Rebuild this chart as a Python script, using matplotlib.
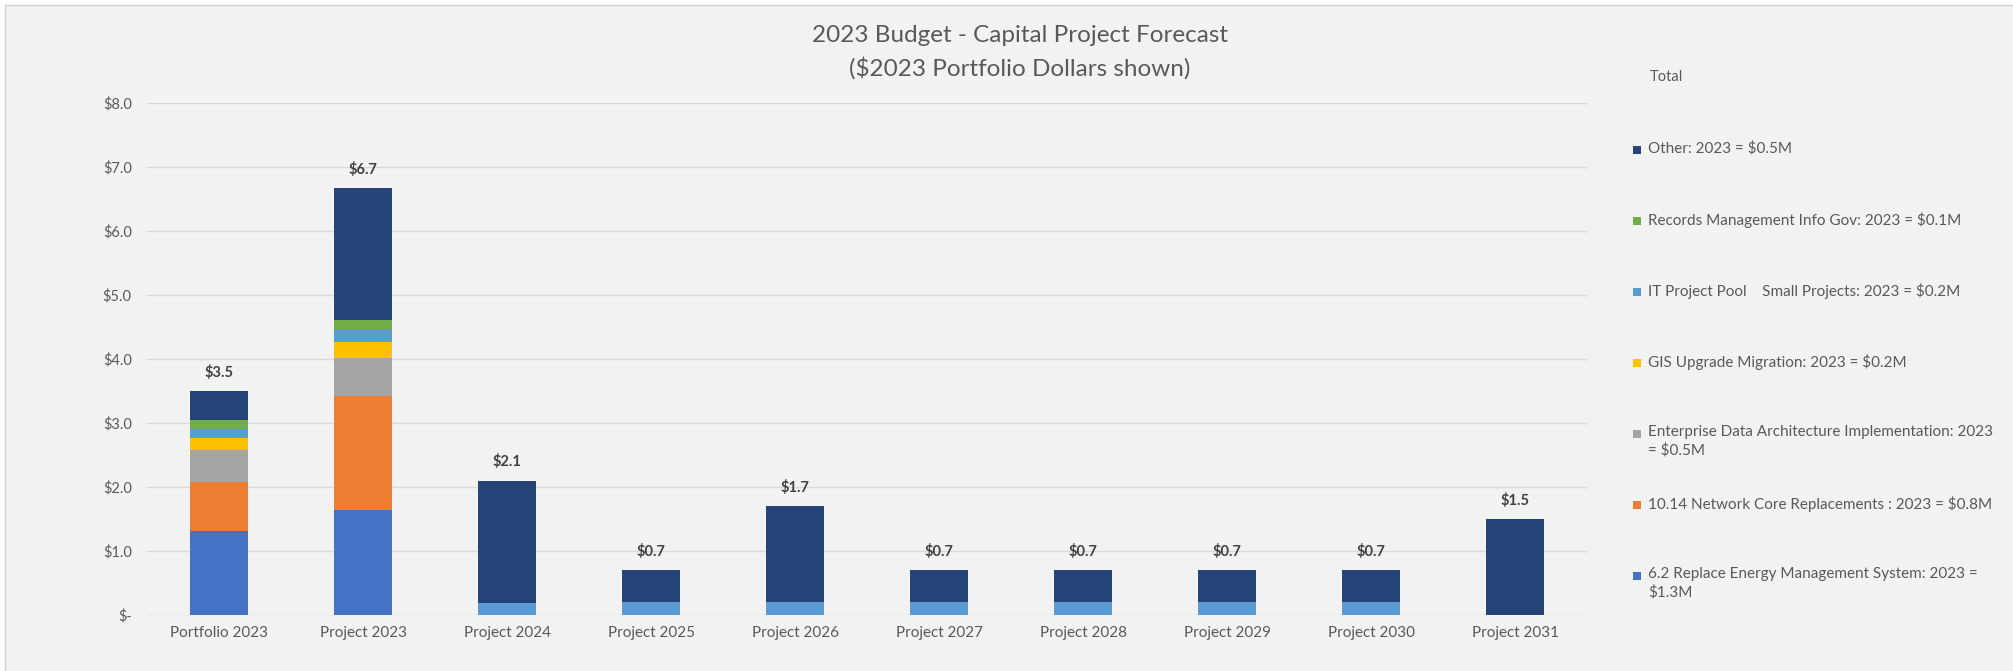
import matplotlib
matplotlib.use("Agg")
import matplotlib.pyplot as plt
from matplotlib.patches import Rectangle
from matplotlib.ticker import FuncFormatter
import numpy as np

plt.rcParams['font.family'] = ['Lato', 'DejaVu Sans']

categories = ['Portfolio 2023', 'Project 2023', 'Project 2024', 'Project 2025',
              'Project 2026', 'Project 2027', 'Project 2028', 'Project 2029',
              'Project 2030', 'Project 2031']

# stacked series, bottom to top ($M)
energy_mgmt = [1.32, 1.64, 0, 0, 0, 0, 0, 0, 0, 0]
network_core = [0.76, 1.78, 0, 0, 0, 0, 0, 0, 0, 0]
data_arch = [0.50, 0.60, 0, 0, 0, 0, 0, 0, 0, 0]
gis_upgrade = [0.19, 0.24, 0, 0, 0, 0, 0, 0, 0, 0]
it_pool = [0.14, 0.20, 0.19, 0.20, 0.20, 0.20, 0.20, 0.20, 0.20, 0]
records_mgmt = [0.13, 0.15, 0, 0, 0, 0, 0, 0, 0, 0]
other = [0.46, 2.06, 1.91, 0.50, 1.50, 0.50, 0.50, 0.50, 0.50, 1.50]

series = [
    (energy_mgmt, '#4472C4', '6.2 Replace Energy Management System: 2023 =\n$1.3M'),
    (network_core, '#ED7D31', '10.14 Network Core Replacements : 2023 = $0.8M'),
    (data_arch, '#A5A5A5', 'Enterprise Data Architecture Implementation: 2023\n= $0.5M'),
    (gis_upgrade, '#FFC000', 'GIS Upgrade Migration: 2023 = $0.2M'),
    (it_pool, '#5B9BD5', 'IT Project Pool    Small Projects: 2023 = $0.2M'),
    (records_mgmt, '#70AD47', 'Records Management Info Gov: 2023 = $0.1M'),
    (other, '#264478', 'Other: 2023 = $0.5M'),
]

W, H = 2013, 671
fig = plt.figure(figsize=(W / 100, H / 100), dpi=100, facecolor='white')
fig.patches.append(Rectangle((5 / W, -0.01), 1.0, 1 - 5 / H + 0.01,
                             transform=fig.transFigure, facecolor='#f2f2f2',
                             edgecolor='#d0d0d0', linewidth=1, zorder=-10))

ax = fig.add_axes([147 / W, 1 - 615 / H, 1440 / W, 512 / H])
ax.set_facecolor('none')

x = np.arange(len(categories))
bottom = np.zeros(len(categories))
for values, color, _ in series:
    vals = np.array(values)
    ax.bar(x, vals, width=0.40, bottom=bottom, color=color, zorder=3)
    bottom += vals

# total labels above each stack
for xi, total in zip(x, bottom):
    ax.annotate(f'${total:.1f}', (xi, total), xytext=(0, 8), textcoords='offset points',
                ha='center', va='bottom', fontsize=10.5, fontweight='bold', color='#404040')

ax.set_ylim(0, 8)
ax.set_xlim(-0.5, len(categories) - 0.5)
ax.set_yticks(np.arange(0, 9, 1))
ax.yaxis.set_major_formatter(FuncFormatter(lambda v, p: '$-' if v == 0 else f'${v:.1f}'))
ax.set_xticks(x)
ax.set_xticklabels(categories)
ax.tick_params(axis='both', length=0, labelsize=10.5, labelcolor='#595959')
ax.tick_params(axis='x', labelsize=11, pad=8)
ax.tick_params(axis='y', pad=11)
ax.grid(axis='y', color='#d9d9d9', linewidth=1, zorder=0)
for s in ax.spines.values():
    s.set_visible(False)

fig.text(1020 / W, 1 - 36 / H, '2023 Budget - Capital Project Forecast',
         ha='center', va='center', fontsize=17.5, color='#595959')
fig.text(1020 / W, 1 - 68 / H, '($2023 Portfolio Dollars shown)',
         ha='center', va='center', fontsize=17.5, color='#595959')

# legend, top entry first
fig.text(1650 / W, 1 - 77 / H, 'Total', ha='left', va='center', fontsize=10.5, color='#595959')
for i, (_, color, label) in enumerate(reversed(series)):
    y = 150 + i * 71
    fig.patches.append(Rectangle((1633 / W, 1 - (y + 4) / H), 8 / W, 8 / H,
                                 transform=fig.transFigure, facecolor=color, edgecolor='none'))
    fig.text(1648 / W, 1 - (y - 9) / H, label, ha='left', va='top', fontsize=11,
             color='#595959', linespacing=1.35)

plt.savefig('out.png', dpi=100, facecolor=fig.get_facecolor())
